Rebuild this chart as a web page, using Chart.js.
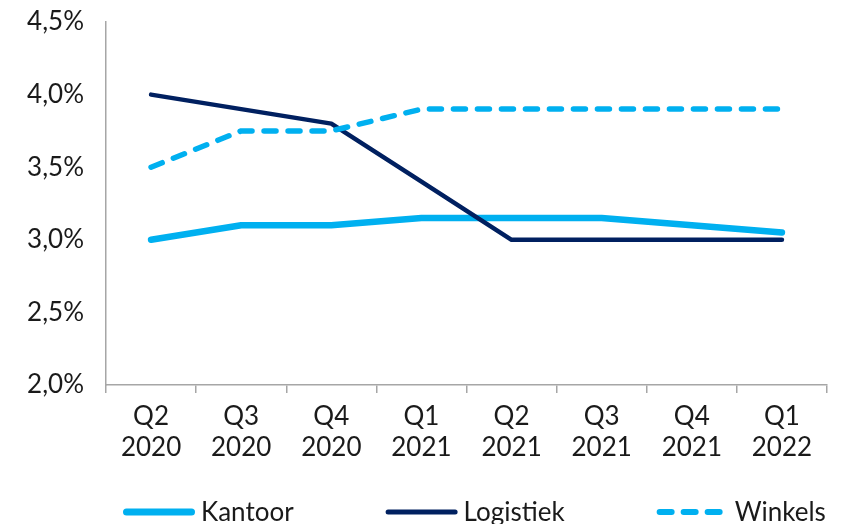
<!DOCTYPE html>
<html>
<head>
<meta charset="utf-8">
<script src="https://cdn.jsdelivr.net/npm/chart.js@4.4.1/dist/chart.umd.min.js"></script>
<style>
  html, body { margin: 0; padding: 0; background: #ffffff; }
  #wrap { width: 841px; height: 524px; }
</style>
</head>
<body>
<div id="wrap"><canvas id="c" width="841" height="524"></canvas></div>
<script>
const categories = [['Q2','2020'],['Q3','2020'],['Q4','2020'],['Q1','2021'],['Q2','2021'],['Q3','2021'],['Q4','2021'],['Q1','2022']];
const kantoor   = [3.00, 3.10, 3.10, 3.15, 3.15, 3.15, 3.10, 3.05];
const logistiek = [4.00, 3.90, 3.80, 3.40, 3.00, 3.00, 3.00, 3.00];
const winkels   = [3.50, 3.75, 3.75, 3.90, 3.90, 3.90, 3.90, 3.90];
const yTicks = [2.0, 2.5, 3.0, 3.5, 4.0, 4.5];

const FONT = 'Lato';
const FONT_SIZE = 26;
const AXIS_GREY = '#a6a6a6';
const TEXT = '#1a1a1a';

const customLegend = {
  id: 'customLegend',
  afterDraw(chart) {
    const ctx = chart.ctx;
    const lineLen = 72, gapText = 6, gapItem = 92;
    let x = 123;
    const y = 512;
    ctx.save();
    ctx.font = FONT_SIZE + 'px ' + FONT;
    ctx.textBaseline = 'middle';
    ctx.textAlign = 'left';
    chart.data.datasets.forEach(ds => {
      ctx.beginPath();
      ctx.lineWidth = ds.legendWidth;
      ctx.strokeStyle = ds.borderColor;
      ctx.lineCap = 'round';
      ctx.setLineDash(ds.borderDash || []);
      ctx.moveTo(x + ds.legendWidth / 2, y);
      ctx.lineTo(x + lineLen - ds.legendWidth / 2, y);
      ctx.stroke();
      ctx.setLineDash([]);
      ctx.fillStyle = TEXT;
      ctx.fillText(ds.label, x + lineLen + gapText, y + 1);
      x += lineLen + gapText + ctx.measureText(ds.label).width + gapItem;
    });
    ctx.restore();
  }
};

new Chart(document.getElementById('c'), {
  type: 'line',
  data: {
    labels: categories,
    datasets: [
      { label: 'Kantoor', data: kantoor, borderColor: '#00b0f0', borderWidth: 6.5, legendWidth: 7,
        borderCapStyle: 'round', borderJoinStyle: 'round', pointRadius: 0, tension: 0, order: 3 },
      { label: 'Logistiek', data: logistiek, borderColor: '#002060', borderWidth: 4.5, legendWidth: 5,
        borderCapStyle: 'round', borderJoinStyle: 'round', pointRadius: 0, tension: 0, order: 2 },
      { label: 'Winkels', data: winkels, borderColor: '#00b0f0', borderWidth: 5.5, legendWidth: 6,
        borderDash: [12, 12], borderCapStyle: 'round', borderJoinStyle: 'round', pointRadius: 0, tension: 0, order: 1 }
    ]
  },
  options: {
    responsive: false,
    animation: false,
    layout: { padding: { top: 22, right: 14, bottom: 40, left: 0 } },
    plugins: { legend: { display: false }, tooltip: { enabled: false } },
    scales: {
      x: {
        offset: true,
        grid: { display: true, drawOnChartArea: false, offset: true, tickLength: 8, color: AXIS_GREY, lineWidth: 1.5 },
        border: { display: true, color: AXIS_GREY, width: 1.5 },
        ticks: { color: TEXT, font: { family: FONT, size: FONT_SIZE, lineHeight: 1.2 }, padding: 8, maxRotation: 0, autoSkip: false },
        afterFit(scale) { scale.height = 99; scale.paddingLeft = 0; scale.paddingRight = 0; }
      },
      y: {
        min: 2.0, max: 4.5,
        afterBuildTicks(scale) { scale.ticks = yTicks.map(v => ({ value: v })); },
        grid: { display: true, drawOnChartArea: false, drawTicks: false },
        border: { display: true, color: AXIS_GREY, width: 1.5 },
        ticks: { color: TEXT, font: { family: FONT, size: FONT_SIZE }, padding: 22,
                 callback: v => v.toFixed(1).replace('.', ',') + '%' },
        afterFit(scale) { scale.width = 106; scale.paddingTop = 0; scale.paddingBottom = 0; }
      }
    }
  },
  plugins: [customLegend]
});
</script>
</body>
</html>
